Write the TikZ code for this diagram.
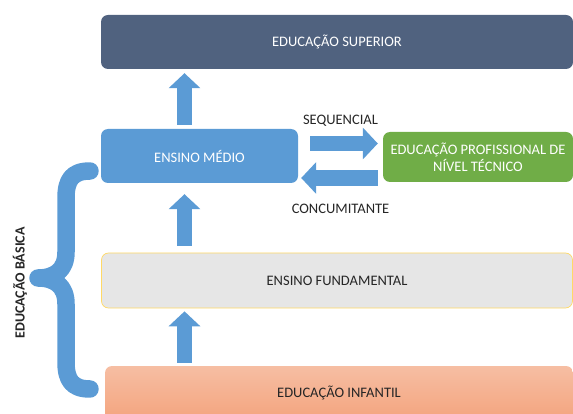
\documentclass[tikz,border=0pt]{standalone}
\usepackage{fontspec}
\setmainfont{Carlito}
\usetikzlibrary{arrows.meta, positioning, calc}
\definecolor{supblue}{HTML}{50627F}
\definecolor{midblue}{HTML}{5B9BD5}
\definecolor{profgreen}{HTML}{70AD47}
\definecolor{fundgray}{HTML}{E6E6E6}
\definecolor{fundline}{HTML}{FFD966}
\definecolor{inftop}{HTML}{F6BEA3}
\definecolor{infbot}{HTML}{F4A47E}
\definecolor{darktext}{HTML}{262626}

\begin{document}
\begin{tikzpicture}[x=1pt, y=-1pt,
  every node/.style={font=\fontsize{14.5}{17}\selectfont, align=center, text=darktext},
  box/.style={rounded corners=7pt, inner sep=0pt},
  bigarrow/.style={draw=midblue, line width=15.5pt, -{Triangle[width=31pt, length=15pt]}}]
  \useasboundingbox (0,0) rectangle (573,414);

  % Stage boxes
  \node[box, fill=supblue, text=white, minimum width=472pt, minimum height=54pt] (sup) at (337,42) {EDUCAÇÃO SUPERIOR};
  \node[box, fill=midblue, text=white, minimum width=197pt, minimum height=54pt] (medio) at (199.5,156) {ENSINO MÉDIO};
  \node[box, fill=profgreen, text=white, minimum width=190pt, minimum height=50pt] (prof) at (478,157) {EDUCAÇÃO PROFISSIONAL DE\\NÍVEL TÉCNICO};
  \node[box, fill=fundgray, draw=fundline, line width=0.7pt, minimum width=471pt, minimum height=55pt] (fund) at (337,280.5) {ENSINO FUNDAMENTAL};
  \node[box, top color=inftop, bottom color=infbot, minimum width=468pt, minimum height=54pt] (inf) at (339,393) {EDUCAÇÃO INFANTIL};

  % Arrows up
  \draw[bigarrow, shorten <=4pt, shorten >=4pt] ([xshift=-15pt]medio.north) -- ([xshift=-15pt]medio.north |- sup.south);
  \draw[bigarrow, shorten <=7pt, shorten >=11pt] ([xshift=-15pt]medio.south |- fund.north) -- ([xshift=-15pt]medio.south);
  \draw[bigarrow, shorten <=3pt, shorten >=3pt] ([xshift=-15pt]medio.south |- inf.north) -- ([xshift=-15pt]medio.south |- fund.south);

  % Arrows to the side
  \draw[bigarrow, shorten <=12pt, shorten >=5pt] ([yshift=12.5pt]medio.east) -- ([yshift=12.5pt]medio.east -| prof.west)
    node[midway, yshift=22.5pt] (seq) {SEQUENCIAL};
  \draw[bigarrow, shorten <=5pt, shorten >=3pt] ([yshift=-22pt]medio.east -| prof.west) -- ([yshift=-22pt]medio.east)
    node[midway, yshift=-31pt] (conc) {CONCUMITANTE};

  % Brace
  \draw[midblue, line width=17.5pt, line cap=round, line join=round]
    (90,171) .. controls (72,171) and (66,180) .. (66,198) -- (66,252)
    .. controls (66,270) and (55,278) .. (38,278)
    .. controls (55,278) and (66,286) .. (66,304) -- (66,362)
    .. controls (66,380) and (72,389) .. (90,389);
  \node[rotate=90, font=\bfseries\fontsize{14}{16}\selectfont] (basica) at (20,283) {EDUCAÇÃO BÁSICA};
\end{tikzpicture}
\end{document}
